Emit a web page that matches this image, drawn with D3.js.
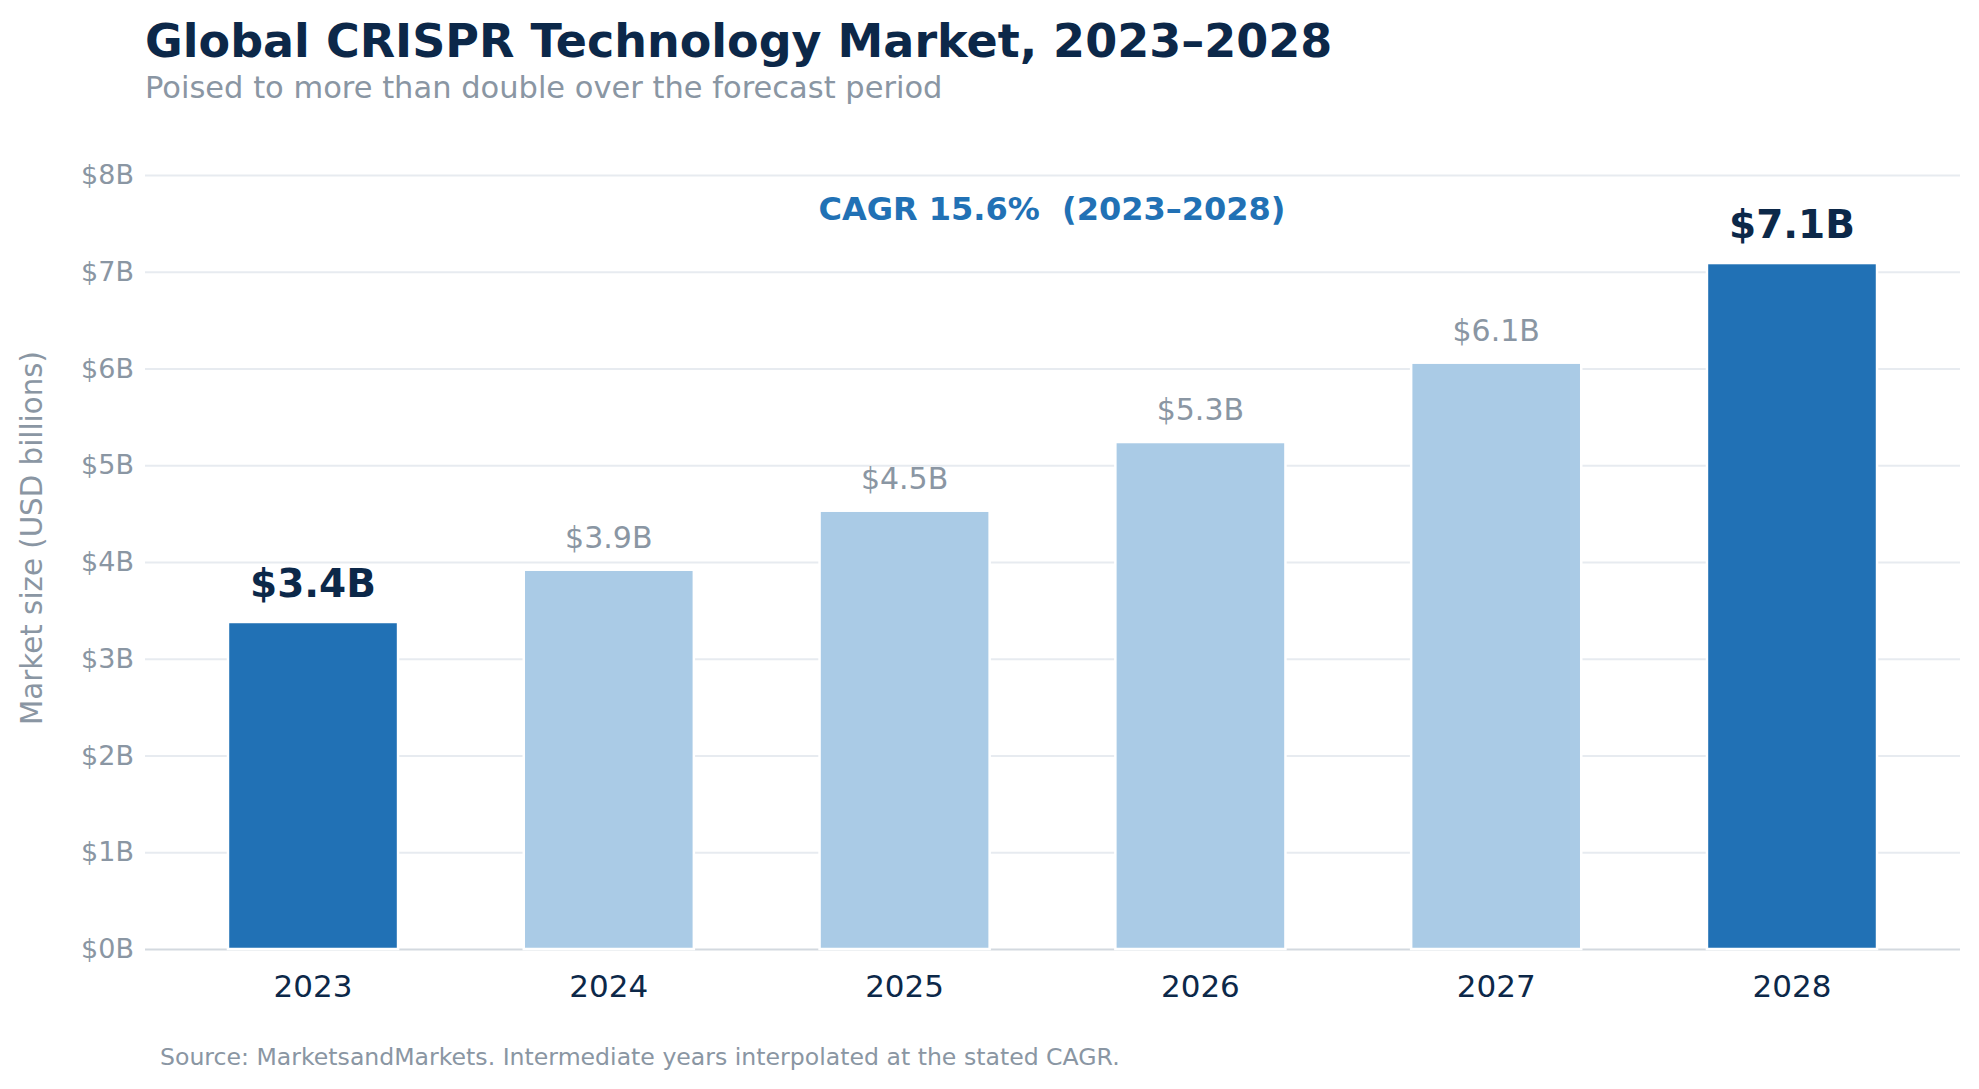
<!DOCTYPE html>
<html>
<head>
<meta charset="utf-8">
<script src="https://cdn.jsdelivr.net/npm/d3@7"></script>
<style>
  html, body { margin: 0; padding: 0; background: #ffffff; }
  svg { display: block; font-family: "DejaVu Sans", sans-serif; }
</style>
</head>
<body>
<svg id="chart" width="1979" height="1089"></svg>
<script>
// ---- data ----
const years = ["2023", "2024", "2025", "2026", "2027", "2028"];
const marketSize = [3.38, 3.92, 4.53, 5.24, 6.06, 7.09];
const valueLabels = ["$3.4B", "$3.9B", "$4.5B", "$5.3B", "$6.1B", "$7.1B"];
const highlighted = [true, false, false, false, false, true];
const yTicks = [0, 1, 2, 3, 4, 5, 6, 7, 8];

const titleText = "Global CRISPR Technology Market, 2023\u20132028";
const subtitleText = "Poised to more than double over the forecast period";
const cagrText = "CAGR 15.6%  (2023\u20132028)";
const yLabelText = "Market size (USD billions)";
const sourceText = "Source: MarketsandMarkets. Intermediate years interpolated at the stated CAGR.";

// ---- styles ----
const navy = "#0c2849";
const gray = "#8a96a3";
const darkBlue = "#2171b5";
const lightBlue = "#aacbe6";
const gridColor = "#e7ebf0";

const svg = d3.select("#chart");
const plot = { left: 145, right: 1960, top: 175, bottom: 949 };

const x = d3.scaleBand()
  .domain(years)
  .range([plot.left, plot.right])
  .paddingInner(0.425)
  .paddingOuter(0.2805);

const y = d3.scaleLinear()
  .domain([0, 8])
  .range([plot.bottom, plot.top]);

// gridlines
const yAxis = d3.axisLeft(y)
  .tickValues(yTicks)
  .tickSize(-(plot.right - plot.left))
  .tickPadding(11)
  .tickFormat(d => "$" + d + "B");

const gy = svg.append("g")
  .attr("transform", `translate(${plot.left},0)`)
  .call(yAxis);
gy.select(".domain").remove();
gy.selectAll(".tick line")
  .attr("stroke", d => d === 0 ? "#d3d9df" : gridColor)
  .attr("stroke-width", 2.2);
gy.selectAll(".tick text")
  .attr("fill", gray)
  .attr("font-size", 27)
  .attr("font-family", "DejaVu Sans");

// bars
svg.append("g").selectAll("rect")
  .data(years)
  .join("rect")
  .attr("x", d => x(d))
  .attr("width", x.bandwidth())
  .attr("y", (d, i) => y(marketSize[i]))
  .attr("height", (d, i) => y(0) - y(marketSize[i]))
  .attr("fill", (d, i) => highlighted[i] ? darkBlue : lightBlue)
  .attr("stroke", "#ffffff")
  .attr("stroke-width", 2.5);

// value labels
svg.append("g").selectAll("text")
  .data(years)
  .join("text")
  .attr("x", d => x(d) + x.bandwidth() / 2)
  .attr("y", (d, i) => y(marketSize[i]) - (highlighted[i] ? 25 : 22))
  .attr("text-anchor", "middle")
  .attr("font-size", (d, i) => highlighted[i] ? 39 : 30)
  .attr("font-weight", (d, i) => highlighted[i] ? "bold" : "normal")
  .attr("fill", (d, i) => highlighted[i] ? navy : gray)
  .text((d, i) => valueLabels[i]);

// x axis labels
const xAxis = d3.axisBottom(x).tickSize(0).tickPadding(0);
const gx = svg.append("g")
  .attr("transform", `translate(0,${plot.bottom})`)
  .call(xAxis);
gx.select(".domain").remove();
gx.selectAll(".tick text")
  .attr("dy", null)
  .attr("y", 48)
  .attr("fill", navy)
  .attr("font-size", 31)
  .attr("font-family", "DejaVu Sans");

// title & subtitle
svg.append("text")
  .attr("x", 145).attr("y", 57)
  .attr("font-size", 46).attr("font-weight", "bold")
  .attr("fill", navy)
  .text(titleText);

svg.append("text")
  .attr("x", 145).attr("y", 98)
  .attr("font-size", 30.5)
  .attr("fill", gray)
  .text(subtitleText);

// CAGR annotation
svg.append("text")
  .attr("x", 1052).attr("y", 220)
  .attr("text-anchor", "middle")
  .attr("font-size", 32).attr("font-weight", "bold")
  .attr("fill", darkBlue)
  .style("white-space", "pre")
  .text(cagrText);

// y label
svg.append("text")
  .attr("transform", `translate(42,538) rotate(-90)`)
  .attr("text-anchor", "middle")
  .attr("font-size", 29.3)
  .attr("fill", gray)
  .text(yLabelText);

// source
svg.append("text")
  .attr("x", 160).attr("y", 1065)
  .attr("font-size", 23.6)
  .attr("fill", gray)
  .text(sourceText);
</script>
</body>
</html>
